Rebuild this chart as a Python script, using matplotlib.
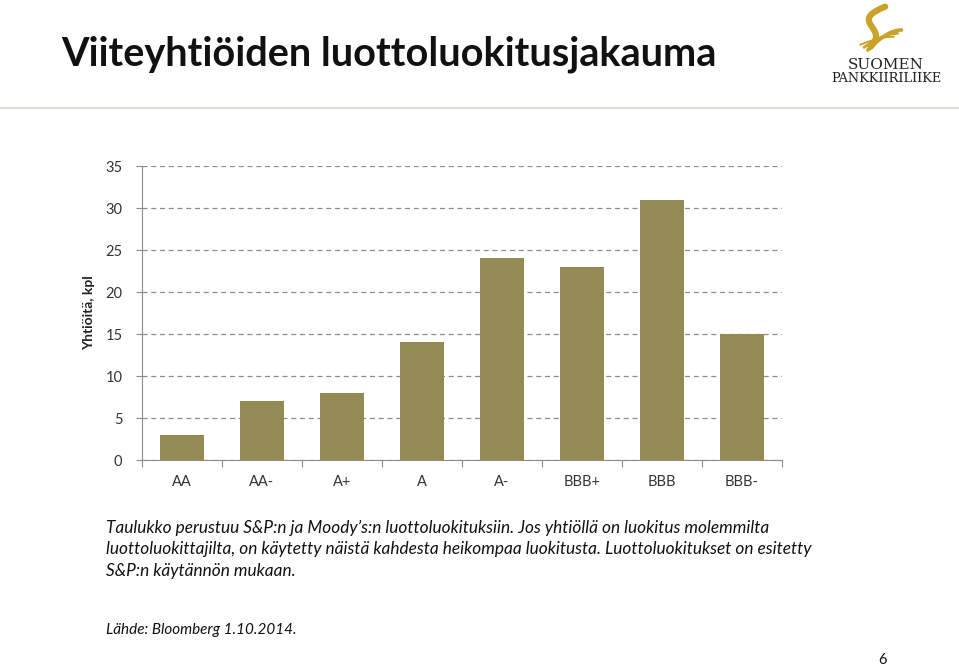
import numpy as np
import matplotlib
matplotlib.use("Agg")
import matplotlib.pyplot as plt

# luokitukset ja yhtiöiden määrät
luokitukset = ["AA", "AA-", "A+", "A", "A-", "BBB+", "BBB", "BBB-"]
yhtiot = [3, 7, 8, 14, 24, 23, 31, 15]
y_ticks = [0, 5, 10, 15, 20, 25, 30, 35]

plt.rcParams['font.family'] = ['Lato', 'DejaVu Sans']

fig = plt.figure(figsize=(9.59, 6.67), dpi=100)
ax = fig.add_axes([0.148, 0.3103, 0.6674, 0.4408])

x = np.arange(len(luokitukset))
ax.bar(x, yhtiot, width=0.54, color="#948A54", zorder=3)

ax.set_xlim(-0.5, len(luokitukset) - 0.5)
ax.set_ylim(0, 35)
ax.set_yticks(y_ticks)
ax.set_yticklabels([str(v) for v in y_ticks], fontsize=10.5, color="#333333")
ax.yaxis.grid(True, linestyle=(0, (4, 3)), color="#8c8c8c", linewidth=0.9, zorder=0)
ax.tick_params(axis="y", length=4, color="#8c8c8c", pad=10)

# x-akselin merkit luokkien rajoille, nimet keskelle
ax.set_xticks(np.arange(len(luokitukset) + 1) - 0.5)
ax.set_xticklabels([])
ax.set_xticks(x, minor=True)
ax.set_xticklabels(luokitukset, minor=True, fontsize=10.5, color="#333333")
ax.tick_params(axis="x", which="major", length=5, color="#8c8c8c")
ax.tick_params(axis="x", which="minor", length=0, pad=11)

for s in ["top", "right"]:
    ax.spines[s].set_visible(False)
ax.spines["left"].set_color("#8c8c8c")
ax.spines["bottom"].set_color("#8c8c8c")

fig.text(0.093, 0.5311, "Yhtiöitä, kpl", rotation=90, fontsize=10, fontweight="bold",
         ha="center", va="center", color="#222222")

# otsikko
fig.text(0.064, 0.919, "Viiteyhtiöiden luottoluokitusjakauma", fontsize=28.5,
         fontweight="bold", ha="left", va="center", color="#111111")

# ohut viiva otsikon alla
fig.add_artist(plt.Line2D([0.0, 1.0], [0.838, 0.838], color="#e3d2c4", linewidth=1.2))

# logo
fig.text(0.924, 0.903, "SUOMEN", fontsize=11, family="DejaVu Serif", ha="center",
         va="center", color="#222222")
fig.text(0.924, 0.882, "PANKKIIRILIIKE", fontsize=9.3, family="DejaVu Serif", ha="center",
         va="center", color="#222222")
t = np.linspace(0, 1, 60)
# S-kirjaimen muotoiset kultaiset kaaret
sx = 0.923 + 0.018 * np.cos(np.pi * (0.5 + 1.5 * t)) * (1 - t) - 0.015 * t
sy = 0.99 - 0.06 * t
fig.add_artist(plt.Line2D(sx, sy, color="#c9a227", linewidth=4.5, solid_capstyle="round"))
for k in range(3):
    tt = np.linspace(0, 1, 40)
    fig.add_artist(plt.Line2D(0.905 + 0.035 * tt - 0.004 * k,
                              0.925 + 0.004 * k + 0.03 * np.sin(tt * np.pi / 2) * (1 - 0.3 * k),
                              color="#c9a227", linewidth=2.6 - 0.6 * k,
                              solid_capstyle="round"))

teksti = ("Taulukko perustuu S&P:n ja Moody’s:n luottoluokituksiin. Jos yhtiöllä on luokitus molemmilta\n"
          "luottoluokittajilta, on käytetty näistä kahdesta heikompaa luokitusta. Luottoluokitukset on esitetty\n"
          "S&P:n käytännön mukaan.")
fig.text(0.111, 0.221, teksti, fontsize=12.4, style="italic", ha="left", va="top",
         linespacing=1.42, color="#111111")
fig.text(0.111, 0.055, "Lähde: Bloomberg 1.10.2014.", fontsize=11, style="italic",
         ha="left", va="center", color="#111111")
fig.text(0.92, 0.011, "6", fontsize=10.5, ha="center", va="center", color="#111111")

fig.savefig("out.png", dpi=100)
